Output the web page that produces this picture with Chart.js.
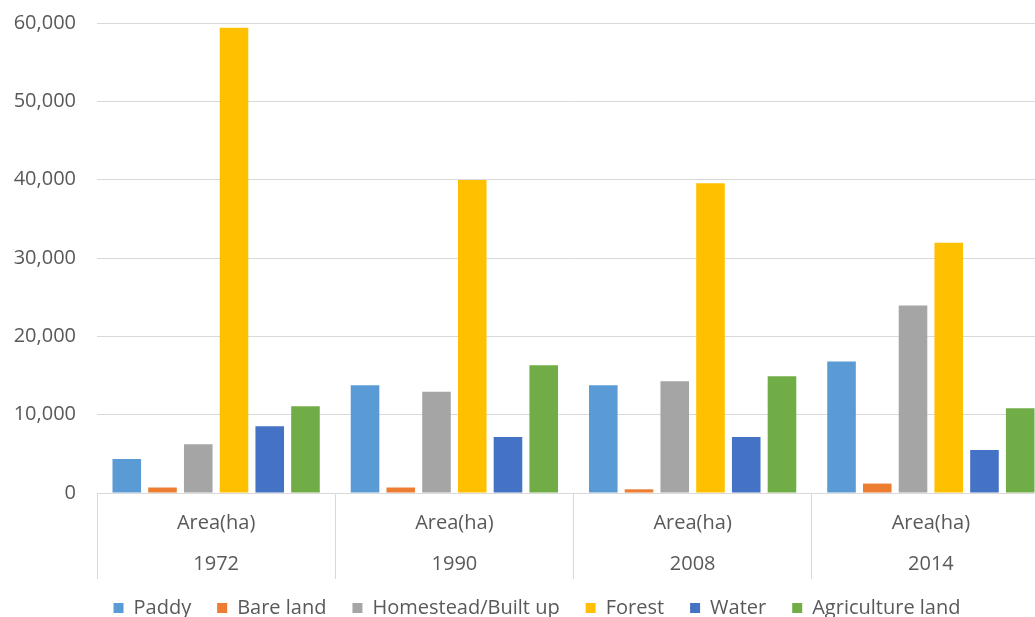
<!DOCTYPE html>
<html>
<head>
<meta charset="utf-8">
<title>Area(ha)</title>
<script src="https://cdn.jsdelivr.net/npm/chart.js@4.4.1/dist/chart.umd.min.js"></script>
<style>
    html, body {
        margin: 0;
        padding: 0;
        background: #ffffff;
        overflow: hidden;
    }
    #wrap {
        width: 1074px;
        height: 638px;
        margin-top: -10px;
    }
</style>
</head>
<body>
<div id="wrap">
    <canvas id="landChart" width="1074" height="638"></canvas>
</div>
<script>
// Years and the sub label under each group
const years = ['1972', '1990', '2008', '2014'];
const subLabel = 'Area(ha)';

// Land use areas (ha)
const paddy = [4350, 13770, 13770, 16800];
const bareLand = [700, 700, 470, 1200];
const homestead = [6230, 12910, 14280, 23950];
const forest = [59400, 39970, 39550, 31960];
const water = [8530, 7160, 7160, 5500];
const agriculture = [11080, 16320, 14920, 10830];

// Value axis
const yMax = 60000;
const yStep = 10000;

const textColor = '#595959';
const gridColor = '#d9d9d9';

Chart.defaults.font.family = "'Open Sans', 'Noto Sans', sans-serif";
Chart.defaults.font.size = 20;
Chart.defaults.color = textColor;

function makeSet(label, values, color) {
    return {
        label: label,
        data: values,
        backgroundColor: color,
        borderWidth: 0,
        categoryPercentage: 0.9,
        barPercentage: 0.8
    };
}

const ctx = document.getElementById('landChart').getContext('2d');

const data = {
    labels: years.map(y => [subLabel, y]),
    datasets: [
        makeSet('Paddy', paddy, '#5b9bd5'),
        makeSet('Bare land', bareLand, '#ed7d31'),
        makeSet('Homestead/Built up', homestead, '#a5a5a5'),
        makeSet('Forest', forest, '#ffc000'),
        makeSet('Water', water, '#4472c4'),
        makeSet('Agriculture land', agriculture, '#70ad47')
    ]
};

const config = {
    type: 'bar',
    data: data,
    options: {
        responsive: false,
        animation: false,
        layout: {
            padding: { top: 13, left: 0, right: 0, bottom: 0 }
        },
        plugins: {
            legend: {
                position: 'bottom',
                labels: {
                    boxWidth: 10,
                    boxHeight: 10,
                    padding: 26,
                    color: textColor,
                    font: { size: 20 }
                }
            },
            tooltip: { enabled: false }
        },
        scales: {
            x: {
                grid: {
                    offset: true,
                    drawOnChartArea: false,
                    drawTicks: true,
                    tickLength: 86,
                    color: gridColor
                },
                border: { display: false },
                ticks: {
                    padding: -76.5,
                    maxRotation: 0,
                    color: textColor,
                    font: { size: 20, lineHeight: 2.05 }
                },
                afterFit: function(scale) {
                    scale.height = 79;
                }
            },
            y: {
                min: 0,
                max: yMax,
                ticks: {
                    stepSize: yStep,
                    padding: 21,
                    color: textColor,
                    font: { size: 20 }
                },
                grid: {
                    drawTicks: false,
                    color: gridColor
                },
                border: { display: false },
                afterFit: function(scale) {
                    scale.width = 97;
                }
            },
            // empty space on the right so the plot ends past the picture edge
            pad: {
                position: 'right',
                display: true,
                grid: { display: false },
                border: { display: false },
                ticks: { display: false },
                afterFit: function(scale) {
                    scale.width = 24;
                }
            }
        }
    }
};

const landChart = new Chart(ctx, config);
</script>
</body>
</html>
